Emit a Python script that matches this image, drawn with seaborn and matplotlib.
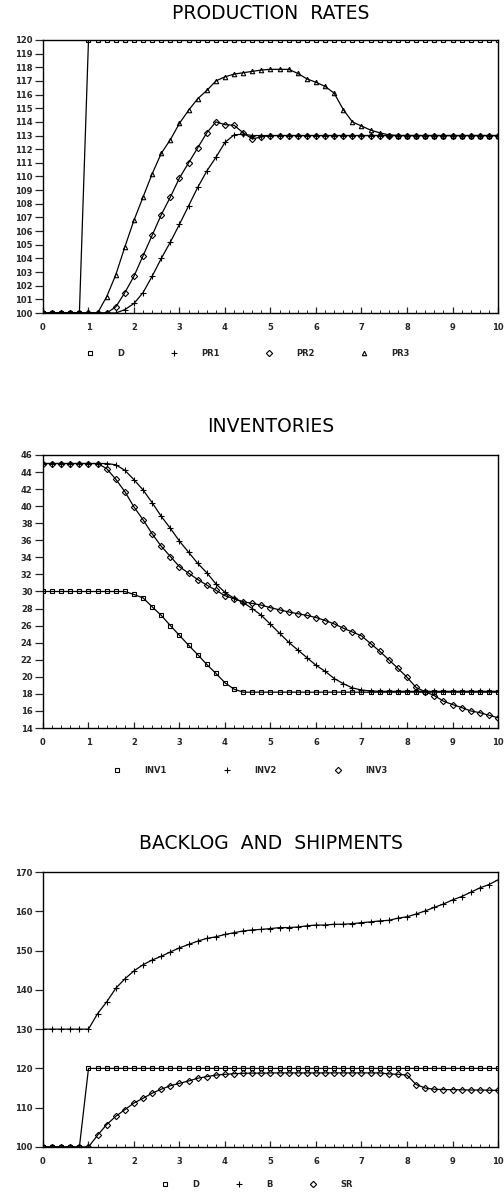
import numpy as np
import pandas as pd
import seaborn as sns
import matplotlib.pyplot as plt
from matplotlib.lines import Line2D
from matplotlib.ticker import MultipleLocator


# =========================
# Data (dt = 0.2)
# =========================

t = [0.0, 0.2, 0.4, 0.6, 0.8, 1.0, 1.2, 1.4, 1.6, 1.8,
     2.0, 2.2, 2.4, 2.6, 2.8, 3.0, 3.2, 3.4, 3.6, 3.8,
     4.0, 4.2, 4.4, 4.6, 4.8, 5.0, 5.2, 5.4, 5.6, 5.8,
     6.0, 6.2, 6.4, 6.6, 6.8, 7.0, 7.2, 7.4, 7.6, 7.8,
     8.0, 8.2, 8.4, 8.6, 8.8, 9.0, 9.2, 9.4, 9.6, 9.8, 10.0]

x_ticks = [0, 1, 2, 3, 4, 5, 6, 7, 8, 9, 10]

# demand (same step in both panels)
demand = [100, 100, 100, 100, 100, 120, 120, 120, 120, 120,
          120, 120, 120, 120, 120, 120, 120, 120, 120, 120,
          120, 120, 120, 120, 120, 120, 120, 120, 120, 120,
          120, 120, 120, 120, 120, 120, 120, 120, 120, 120,
          120, 120, 120, 120, 120, 120, 120, 120, 120, 120, 120]

# production rates
pr1 = [100, 100, 100, 100, 100, 100, 100, 100, 100, 100.25,
       100.7, 101.5, 102.7, 104.0, 105.2, 106.5, 107.85, 109.2, 110.4, 111.4,
       112.5, 113.05, 113.1, 113, 113, 113, 113, 113, 113, 113,
       113, 113, 113, 113, 113, 113, 113, 113, 113, 113,
       113, 113, 113, 113, 113, 113, 113, 113, 113, 113, 113]
pr2 = [100, 100, 100, 100, 100, 100, 100, 100, 100.45, 101.5,
       102.7, 104.2, 105.7, 107.2, 108.5, 109.9, 111.0, 112.1, 113.2, 114.0,
       113.8, 113.75, 113.2, 112.75, 112.9, 113, 113, 113, 113, 113,
       113, 113, 113, 113, 113, 113, 113, 113, 113, 113,
       113, 113, 113, 113, 113, 113, 113, 113, 113, 113, 113]
pr3 = [100, 100, 100, 100, 100, 100, 100, 101.2, 102.8, 104.85,
       106.8, 108.5, 110.2, 111.7, 112.7, 113.9, 114.85, 115.7, 116.3, 117.0,
       117.3, 117.5, 117.6, 117.7, 117.8, 117.85, 117.85, 117.85, 117.55, 117.15,
       116.9, 116.6, 116.1, 114.9, 114.0, 113.7, 113.4, 113.2, 113.05, 113,
       113, 113, 113, 113, 113, 113, 113, 113, 113, 113, 113]

# inventories
inv1 = [30, 30, 30, 30, 30, 30, 30, 30, 30, 30.0,
        29.65, 29.25, 28.2, 27.2, 26.0, 24.85, 23.7, 22.6, 21.45, 20.4,
        19.3, 18.55, 18.2, 18.2, 18.2, 18.2, 18.2, 18.2, 18.2, 18.2,
        18.2, 18.2, 18.2, 18.2, 18.2, 18.2, 18.2, 18.2, 18.2, 18.2,
        18.2, 18.2, 18.2, 18.2, 18.2, 18.2, 18.2, 18.2, 18.2, 18.2, 18.2]
inv2 = [45, 45, 45, 45, 45, 45, 45, 45, 44.85, 44.2,
        43.1, 41.9, 40.4, 38.8, 37.4, 35.9, 34.6, 33.3, 32.2, 30.9,
        29.9, 29.2, 28.7, 28.0, 27.2, 26.15, 25.1, 24.05, 23.15, 22.25,
        21.35, 20.65, 19.8, 19.2, 18.7, 18.45, 18.35, 18.3, 18.3, 18.3,
        18.3, 18.3, 18.3, 18.3, 18.3, 18.3, 18.3, 18.3, 18.3, 18.3, 18.3]
inv3 = [45, 45, 45, 45, 45, 45, 45, 44.4, 43.15, 41.7,
        39.9, 38.4, 36.75, 35.3, 34.1, 32.9, 32.15, 31.4, 30.75, 30.15,
        29.5, 29.15, 28.8, 28.6, 28.4, 28.1, 27.85, 27.6, 27.4, 27.2,
        26.95, 26.6, 26.2, 25.7, 25.25, 24.8, 23.9, 23.0, 22.0, 21.0,
        19.95, 18.75, 18.25, 17.8, 17.15, 16.75, 16.4, 16.0, 15.8, 15.5, 15.2]

# backlog and shipments
backlog = [130, 130, 130, 130, 130, 130, 133.95, 136.95, 140.4, 142.8,
           144.85, 146.4, 147.6, 148.55, 149.65, 150.7, 151.55, 152.4, 153.1, 153.5,
           154.1, 154.55, 155.0, 155.25, 155.4, 155.6, 155.85, 155.85, 156.0, 156.3,
           156.5, 156.5, 156.7, 156.7, 156.85, 157.1, 157.3, 157.55, 157.7, 158.25,
           158.6, 159.3, 160.1, 161.0, 161.85, 162.9, 163.75, 164.85, 165.95, 166.8, 168.0]
shipments = [100, 100, 100, 100, 100, 100, 103.0, 105.7, 107.8, 109.5,
             111.2, 112.4, 113.7, 114.7, 115.6, 116.2, 116.8, 117.5, 117.9, 118.3,
             118.5, 118.65, 118.75, 118.8, 118.8, 118.85, 118.85, 118.85, 118.85, 118.85,
             118.85, 118.85, 118.85, 118.85, 118.85, 118.85, 118.85, 118.85, 118.6, 118.5,
             118.3, 115.9, 115.0, 114.7, 114.6, 114.6, 114.55, 114.5, 114.5, 114.45, 114.4]


# =========================
# Style
# =========================

sns.set_theme(style="white")
plt.rcParams["font.family"] = ["DejaVu Sans"]
plt.rcParams["axes.edgecolor"] = "black"
plt.rcParams["axes.linewidth"] = 1.0

fig = plt.figure(figsize=(5.04, 11.97), dpi=100)

panels = [
    {
        "title": "PRODUCTION  RATES",
        "rect": [0.0853, 0.7385, 0.9028, 0.2281],
        "title_y": 0.9887,
        "series": [(demand, "s", "D"), (pr1, "+", "PR1"),
                   (pr2, "D", "PR2"), (pr3, "^", "PR3")],
        "ylim": (100, 120), "ystep": 1,
        "legend_at": (0.45, -0.147), "colspace": 5.4,
    },
    {
        "title": "INVENTORIES",
        "rect": [0.0853, 0.3918, 0.9028, 0.2281],
        "title_y": 0.6433,
        "series": [(inv1, "s", "INV1"), (inv2, "+", "INV2"),
                   (inv3, "D", "INV3")],
        "ylim": (14, 46), "ystep": 2,
        "legend_at": (0.455, -0.154), "colspace": 6.8,
    },
    {
        "title": "BACKLOG  AND  SHIPMENTS",
        "rect": [0.0853, 0.0418, 0.9028, 0.2297],
        "title_y": 0.2953,
        "series": [(demand, "s", "D"), (backlog, "+", "B"),
                   (shipments, "D", "SR")],
        "ylim": (100, 170), "ystep": 10,
        "legend_at": (0.47, -0.138), "colspace": 4.3,
    },
]


# =========================
# Draw panels
# =========================

for p in panels:
    ax = fig.add_axes(p["rect"])

    handles = []
    for vals, mk, name in p["series"]:
        size = 4.5 if mk == "+" else 3.2
        sns.lineplot(
            x=t, y=vals, ax=ax,
            color="black", linewidth=0.9,
            marker=mk, markersize=size,
            markerfacecolor="none", markeredgecolor="black",
            markeredgewidth=0.8, legend=False
        )
        handles.append(Line2D([], [], linestyle="none", marker=mk,
                              color="black", markerfacecolor="none",
                              markersize=size, markeredgewidth=0.8))

    ax.set_xlim(0, 10)
    ax.set_ylim(*p["ylim"])
    ax.set_xticks(x_ticks)
    ax.xaxis.set_minor_locator(MultipleLocator(0.2))
    ax.yaxis.set_major_locator(MultipleLocator(p["ystep"]))
    ax.set_xlabel("")
    ax.set_ylabel("")

    ax.tick_params(axis="y", direction="out", length=6, width=0.9,
                   pad=1.5, labelsize=6, left=True)
    ax.tick_params(axis="x", which="major", direction="in", length=4,
                   width=0.9, pad=7, labelsize=6, bottom=True)
    ax.tick_params(axis="x", which="minor", direction="in", length=2,
                   width=0.7, bottom=True)
    for lbl in ax.get_xticklabels() + ax.get_yticklabels():
        lbl.set_fontweight("bold")

    for side in ["top", "bottom", "left", "right"]:
        ax.spines[side].set_color("black")
        ax.spines[side].set_linewidth(1.0)

    fig.text(0.5367, p["title_y"], p["title"], ha="center", va="center",
             fontsize=13.5, color="black")

    ax.legend(handles, [s[2] for s in p["series"]], loc="center",
              bbox_to_anchor=p["legend_at"], ncol=len(handles),
              frameon=False, handlelength=1, handletextpad=2.8,
              columnspacing=p["colspace"], prop={"size": 6, "weight": "bold"})

plt.savefig("out.png", dpi=100, facecolor="white")
